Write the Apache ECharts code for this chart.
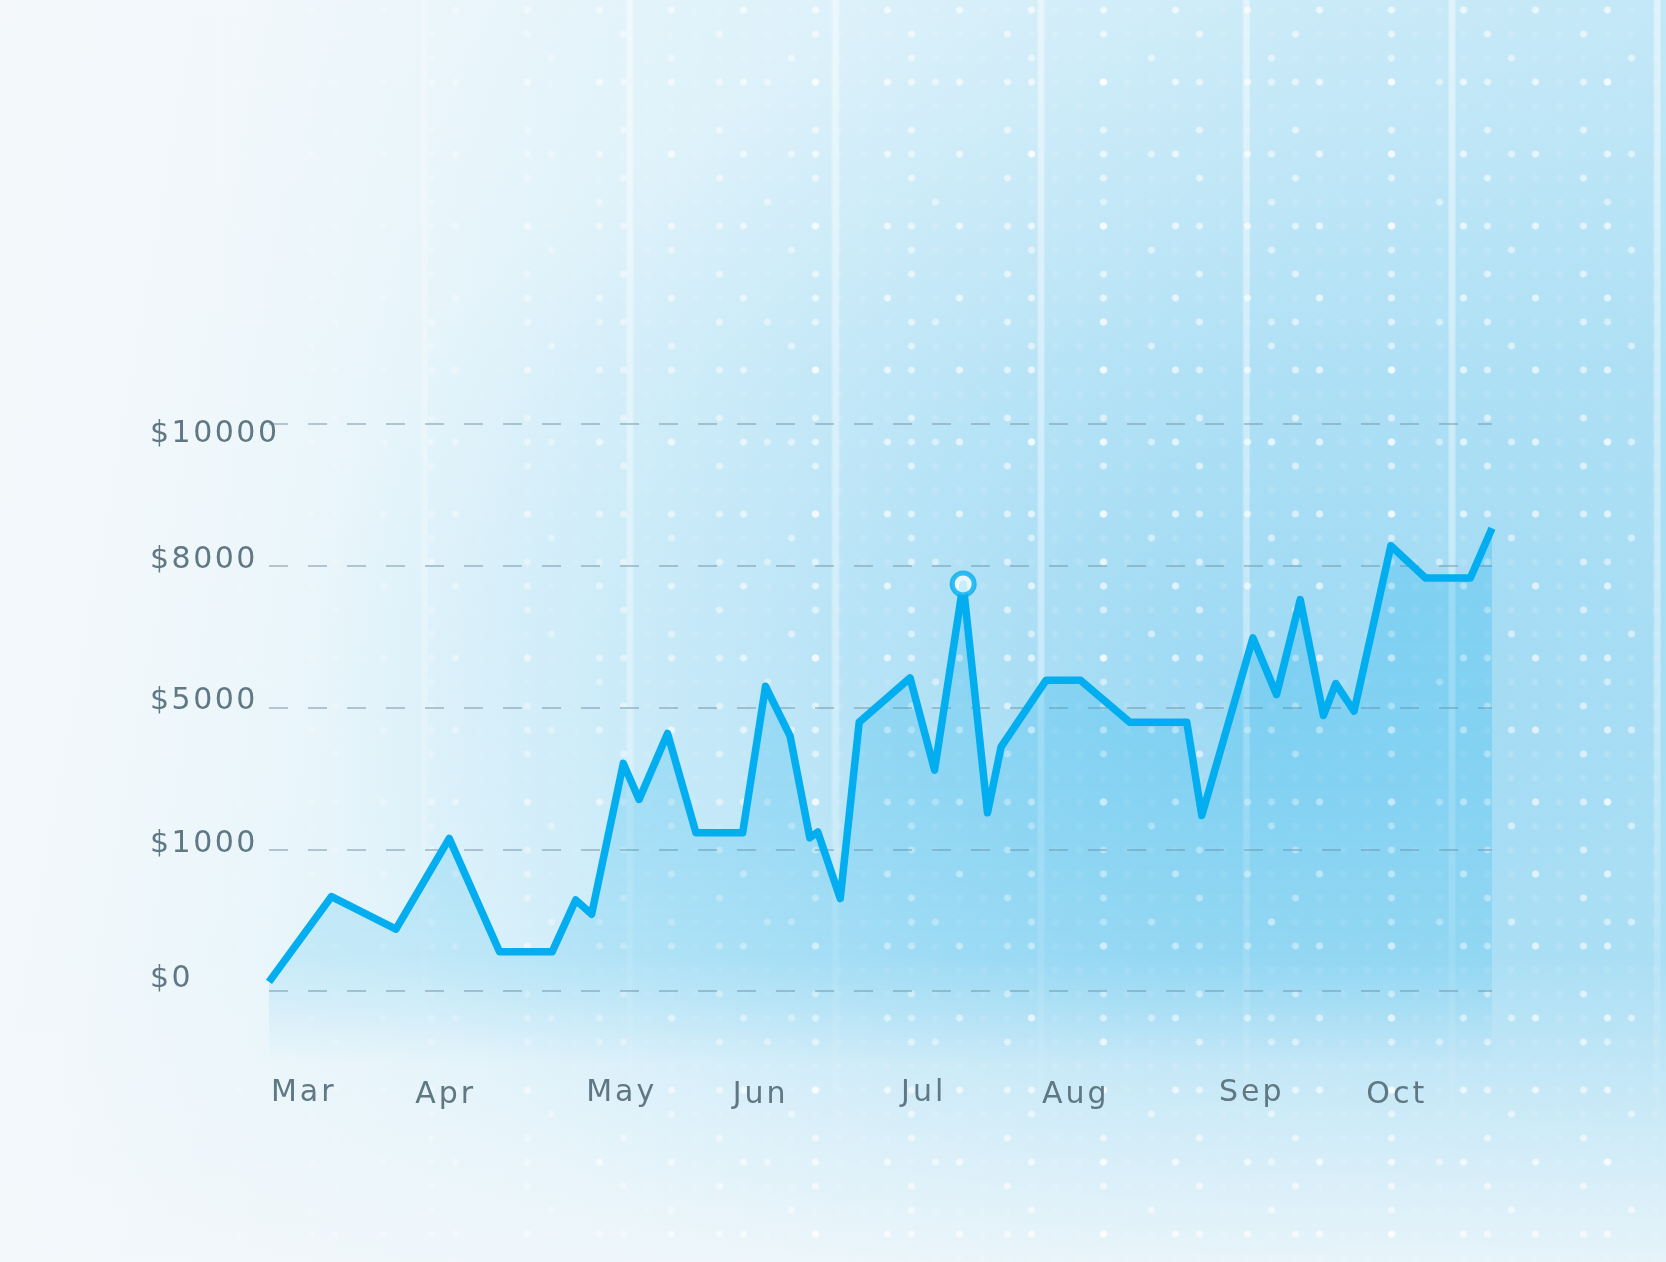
<!DOCTYPE html>
<html>
<head>
<meta charset="utf-8">
<script src="https://cdn.jsdelivr.net/npm/echarts@6/dist/echarts.min.js"></script>
<style>
  html, body { margin: 0; padding: 0; width: 1666px; height: 1262px; overflow: hidden; background: #f4f8fb; }
  #bg {
    position: absolute; left: 0; top: 0; width: 1666px; height: 1262px;
    background:
      linear-gradient(to top, rgba(244,248,251,0.8) 0%, rgba(244,248,251,0) 24%),
      linear-gradient(to bottom, rgba(244,248,251,0.2) 0%, rgba(244,248,251,0) 30%),
      radial-gradient(ellipse 55% 55% at 74% 54%, rgba(140,210,242,0.65) 0%, rgba(150,214,243,0.3) 55%, rgba(244,248,251,0) 100%),
      linear-gradient(100deg, #f4f8fb 0%, #f1f8fb 13%, #d8f0fa 42%, #c0e7f7 70%, #b0e1f5 100%);
  }
  #streakWrap {
    position: absolute; left: 0; top: 0; width: 1666px; height: 1262px;
    -webkit-mask-image: linear-gradient(to bottom, #000 0%, rgba(0,0,0,0.8) 55%, rgba(0,0,0,0) 92%);
    mask-image: linear-gradient(to bottom, #000 0%, rgba(0,0,0,0.8) 55%, rgba(0,0,0,0) 92%);
  }
  #streaks {
    position: absolute; left: 215px; top: 0; width: 1451px; height: 1262px;
    background: repeating-linear-gradient(90deg,
      rgba(255,255,255,0.15) 0px, rgba(255,255,255,0.45) 2px, rgba(255,255,255,0.45) 6px, rgba(255,255,255,0.15) 8px,
      rgba(255,255,255,0) 8px, rgba(255,255,255,0) 205.5px);
    -webkit-mask-image: linear-gradient(to right, rgba(0,0,0,0.25) 0%, #000 30%);
    mask-image: linear-gradient(to right, rgba(0,0,0,0.25) 0%, #000 30%);
  }
  #dots {
    position: absolute; left: 0; top: 0; width: 1666px; height: 1262px;
    background-image:
      radial-gradient(circle at 12px 12px, rgba(255,255,255,0.6) 3.2px, rgba(255,255,255,0) 3.9px),
      radial-gradient(circle at 12px 12px, rgba(255,255,255,0.5) 3.2px, rgba(255,255,255,0) 3.9px),
      radial-gradient(circle at 12px 12px, rgba(255,255,255,0.45) 3.2px, rgba(255,255,255,0) 3.9px),
      radial-gradient(circle at 12px 12px, rgba(255,255,255,0.4) 3.2px, rgba(255,255,255,0) 3.9px),
      radial-gradient(circle at 12px 12px, rgba(255,255,255,0.12) 3.2px, rgba(255,255,255,0) 3.9px);
    background-size: 72px 72px, 96px 48px, 120px 96px, 168px 120px, 24px 24px;
    background-position: 11.5px -2px, 35.5px 22px, 59.5px 46px, 83.5px 70px, 11.5px -2px;
    -webkit-mask-image: linear-gradient(to right, rgba(0,0,0,0) 8%, rgba(0,0,0,0.55) 28%, #000 50%);
    mask-image: linear-gradient(to right, rgba(0,0,0,0) 8%, rgba(0,0,0,0.55) 28%, #000 50%);
  }
  #chart { position: absolute; left: 0; top: 0; width: 1666px; height: 1262px; }
</style>
</head>
<body>
<div id="bg"></div>
<div id="streakWrap"><div id="streaks"></div></div>
<div id="dots"></div>
<div id="chart"></div>
<script>
// ---- data ----
const xValues = [0, 5.11, 10.38, 14.74, 18.85, 23.15, 25.08, 26.38, 28.97, 30.26,
                 32.59, 34.91, 38.73, 40.60, 42.61, 44.22, 44.87, 46.71, 48.26, 52.42,
                 54.42, 56.76, 58.75, 59.86, 63.53, 66.36, 70.37, 75.04, 76.27, 80.45,
                 82.38, 84.32, 86.22, 87.22, 88.72, 91.73, 94.56, 98.23, 100];
const yValues = [0.065, 0.667, 0.437, 1.077, 0.277, 0.277, 0.643, 0.542, 1.606, 1.352,
                 1.817, 1.117, 1.117, 2.150, 1.798, 1.082, 1.122, 0.653, 1.897, 2.209,
                 1.559, 2.871, 1.258, 1.723, 2.192, 2.192, 1.897, 1.897, 1.239, 2.491,
                 2.092, 2.761, 1.944, 2.169, 1.974, 3.141, 2.913, 2.913, 3.265];
const peakIndex = 21;
const monthLabels = ['Mar', 'Apr', 'May', 'Jun', 'Jul', 'Aug', 'Sep', 'Oct'];
const monthTickValues = [2.72, 14.33, 28.72, 40.08, 53.41, 65.84, 80.23, 92.09];
const yTickValues = [0, 1, 2, 3, 4];
const yTickLabels = ['$0', '$1000', '$5000', '$8000', '$10000'];

// ---- styles ----
const FONT = 'DejaVu Sans';
const TEXT_COLOR = '#5f7883';
const LINE_COLOR = '#02aeef';
const Y_FONT = 30, X_FONT = 30;
const Y_SPACING = 2.5, X_SPACING = 3;
const yLabelShift = [-12, -5, -6, -6, 10];
const xLabelShift = [0, 1, 0, 1, -1, 1, -1, 1];

function shiftPad(d, right) {
  return d >= 0 ? [2 * d, right, 0, 0] : [0, right, -2 * d, 0];
}
// letter-spaced rich text: every character is a token with right padding, last one without
function spaced(str, key) {
  const chars = str.split('');
  return chars.map((ch, k) => '{' + (k === chars.length - 1 ? key + 'e' : key) + '|' + ch + '}').join('');
}
const yRich = {};
yTickLabels.forEach((t, i) => {
  yRich['y' + i] = { fontFamily: FONT, fontSize: Y_FONT, color: TEXT_COLOR, padding: shiftPad(yLabelShift[i], Y_SPACING) };
  yRich['y' + i + 'e'] = { fontFamily: FONT, fontSize: Y_FONT, color: TEXT_COLOR, padding: shiftPad(yLabelShift[i], 0) };
});
const xRich = {};
monthLabels.forEach((t, i) => {
  xRich['x' + i] = { fontFamily: FONT, fontSize: X_FONT, color: TEXT_COLOR, padding: shiftPad(xLabelShift[i], X_SPACING) };
  xRich['x' + i + 'e'] = { fontFamily: FONT, fontSize: X_FONT, color: TEXT_COLOR, padding: shiftPad(xLabelShift[i], 0) };
});

const chart = echarts.init(document.getElementById('chart'), null, { renderer: 'canvas' });
chart.setOption({
  backgroundColor: 'transparent',
  animation: false,
  grid: { left: 269, right: 174, top: 424, bottom: 200, containLabel: false },
  xAxis: {
    type: 'value', min: 0, max: 100,
    axisLine: { show: false }, axisTick: { show: false }, splitLine: { show: false },
    axisLabel: {
      customValues: monthTickValues,
      margin: 16,
      fontFamily: FONT, fontSize: X_FONT, color: TEXT_COLOR,
      formatter: function (v, idx) {
        let i = monthTickValues.indexOf(v);
        if (i < 0) i = idx;
        return spaced(monthLabels[i], 'x' + i);
      },
      rich: xRich
    }
  },
  yAxis: {
    type: 'value', min: -0.5, max: 4, interval: 0.5,
    axisLine: { show: false }, axisTick: { show: false },
    splitLine: {
      show: true, showMinLine: true, showMaxLine: true,
      lineStyle: { color: ['rgba(0,0,0,0)', 'rgba(120,150,165,0.5)'], width: 2, type: [19, 20] }
    },
    axisLabel: {
      align: 'left', margin: 119,
      fontFamily: FONT, fontSize: Y_FONT, color: TEXT_COLOR,
      formatter: function (v) {
        const i = yTickValues.indexOf(v);
        if (i < 0) return '';
        return spaced(yTickLabels[i], 'y' + i);
      },
      rich: yRich
    }
  },
  series: [
    {
      type: 'line',
      data: xValues.map((x, i) => [x, yValues[i]]),
      showSymbol: false,
      clip: false,
      lineStyle: { color: LINE_COLOR, width: 7.5, join: 'round', cap: 'butt' },
      areaStyle: {
        origin: 'start',
        color: {
          type: 'linear', x: 0, y: 0, x2: 0, y2: 1,
          colorStops: [
            { offset: 0, color: 'rgba(0,170,235,0.32)' },
            { offset: 0.5, color: 'rgba(0,170,235,0.27)' },
            { offset: 0.8, color: 'rgba(0,170,235,0.2)' },
            { offset: 0.88, color: 'rgba(0,170,235,0.13)' },
            { offset: 1, color: 'rgba(0,170,235,0)' }
          ]
        }
      },
      z: 2
    },
    {
      type: 'scatter',
      data: [[xValues[peakIndex], yValues[peakIndex]]],
      symbol: 'circle',
      symbolSize: 22,
      itemStyle: { color: '#f6fcff', borderColor: LINE_COLOR, borderWidth: 5 },
      z: 5
    }
  ]
});
</script>
</body>
</html>
